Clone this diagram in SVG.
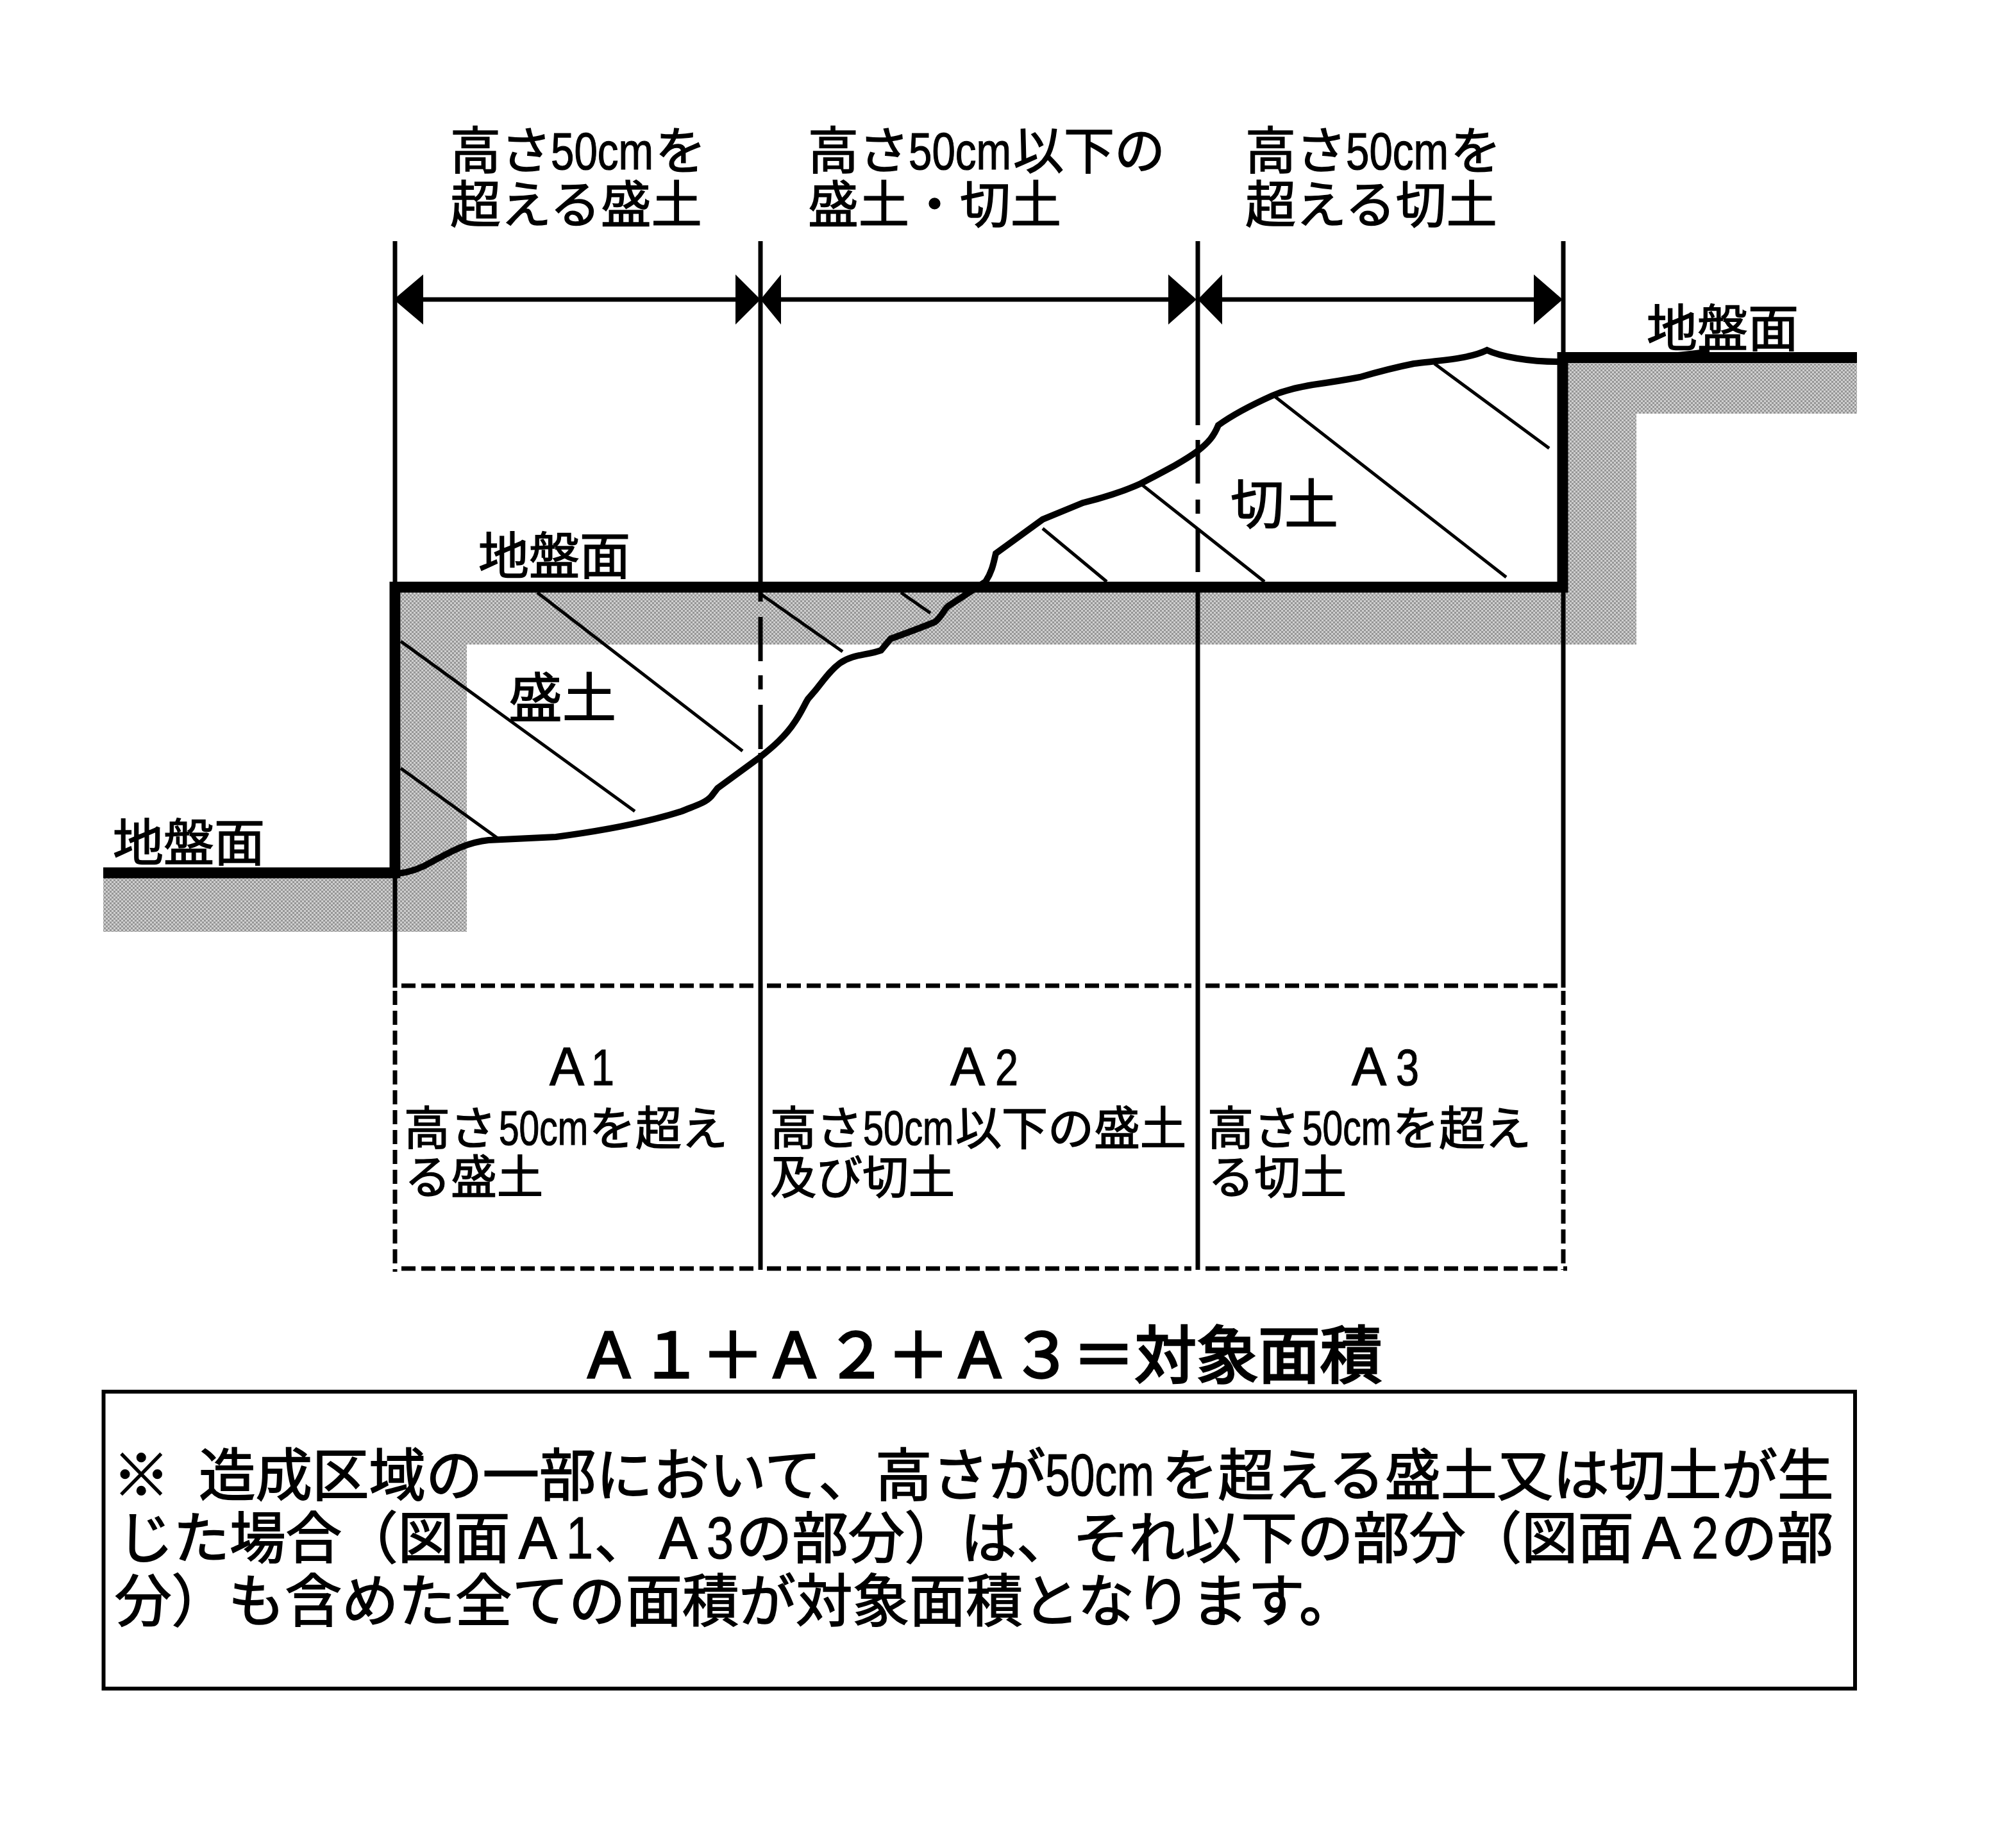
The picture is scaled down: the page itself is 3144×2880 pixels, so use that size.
<svg xmlns="http://www.w3.org/2000/svg" width="3144" height="2880" viewBox="0 0 3144 2880">
<style>
text{font-family:"Noto Sans CJK JP","Liberation Sans",sans-serif;fill:#000;stroke:#000;stroke-width:1.5}
.lat{font-family:"Liberation Sans",sans-serif;stroke-width:1.2}
.s70{font-size:72px}.s78{font-size:79px}.s84{font-size:84px}.s87{font-size:87.5px;stroke-width:1.8}.s88{font-size:88.5px;stroke-width:1.8}
.eq{font-size:96.4px;stroke-width:3.5}
.thin{stroke:#000;stroke-width:7;fill:none}
.hatch{stroke:#000;stroke-width:5;fill:none}
.dash{stroke:#000;stroke-width:7;fill:none;stroke-dasharray:22 9}
.thick{stroke:#000;stroke-width:17;fill:none;stroke-linejoin:miter}
.head{fill:#000}
</style>
<defs>
<pattern id="dither" width="6" height="6" patternUnits="userSpaceOnUse">
<rect width="6" height="6" fill="#cfcfcf"/>
<rect width="3" height="3" fill="#969696"/>
<rect x="3" y="3" width="3" height="3" fill="#969696"/>
</pattern>
</defs>
<rect width="3144" height="2880" fill="#fff"/>
<g id="ground-fill">
<path fill="url(#dither)" d="M161,1369H625V924H2445V566H2896V645H2552V1005H728V1453H161Z"/>
</g>
<g id="hatching">
<path class="hatch" d="M2237,567L2416,699M1989,619L2349,900M1776,752L1972,907M1626,824L1726,907M1405,924L1451,956M625,1000L990,1265M625,1198L776,1307M838,924L1158,1171M1186,926L1314,1016"/>
</g>
<g id="connectors">
<path class="thin" d="M616,376V907M616,1369V1540M1186,376V907M1186,924V938M1186,962V1031M1186,1053V1075M1186,1099V1168M1186,1174V1980M1868,376V663M1868,686V754M1868,779V801M1868,824V892M1868,924V1980M2438,376V549M2438,924V1540"/>
<path class="dash" d="M616,1545V1983M2438,1545V1980"/>
<path class="dash" d="M626,1537H1176M1196,1537H1858M1880,1537H2430M626,1978H1176M1196,1978H1858M1880,1978H2444"/>
<path class="thin" d="M660,467H1147M1218,467H1822M1906,467H2392"/>
<path class="head" d="M614,467L660,428V506ZM1186,467L1147,428V506ZM1186,467L1218,428V506ZM1866,467L1822,428V506ZM1868,467L1906,428V506ZM2437,467L2392,428V506Z"/>
</g>
<g id="ground-line">
<path class="thick" d="M161,1361H616V915.5H2437V557.5H2896"/>
</g>
<g id="terrain">
<path d="M621,1362C640,1360 660,1352 675,1343C700,1330 725,1314 762,1310L867,1305C935,1296 1010,1282 1063,1265C1085,1256 1100,1252 1109,1242L1119,1229L1186,1180C1205,1165 1225,1148 1240,1125C1250,1110 1255,1098 1260,1090L1272,1076C1285,1060 1295,1045 1310,1034C1330,1020 1352,1022 1374,1014L1389,996C1420,985 1445,975 1458,970C1470,960 1472,950 1479,945L1537,907C1548,890 1550,875 1553,863L1626,810L1689,784C1725,775 1755,765 1779,754C1815,735 1845,720 1868,703C1885,690 1893,680 1900,663C1925,645 1955,630 1984,617C2005,608 2025,604 2047,600C2075,596 2100,592 2121,588C2155,578 2180,572 2205,567C2245,562 2290,560 2319,546C2340,556 2385,564 2429,564" fill="none" stroke="#000" stroke-width="10"/>
<path d="M2605,550Q2640,547 2666,543V550Z" fill="#000"/>
</g>
<g id="label-top-1">
<text class="s78" x="702" y="264">高さ<tspan class="lat" font-size="82" x="859" textLength="160" lengthAdjust="spacingAndGlyphs">50cm</tspan><tspan x="1022">を</tspan></text>
<text class="s78" x="702" y="348">超える盛土</text>
</g>
<g id="label-top-2">
<text class="s78" x="1260" y="264">高さ<tspan class="lat" font-size="82" x="1417" textLength="160" lengthAdjust="spacingAndGlyphs">50cm</tspan><tspan x="1580">以下の</tspan></text>
<text class="s78" x="1260" y="348">盛土・切土</text>
</g>
<g id="label-top-3">
<text class="s78" x="1942" y="264">高さ<tspan class="lat" font-size="82" x="2099" textLength="160" lengthAdjust="spacingAndGlyphs">50cm</tspan><tspan x="2262">を</tspan></text>
<text class="s78" x="1942" y="348">超える切土</text>
</g>
<g id="ground-labels">
<text class="s78" x="746" y="896">地盤面</text>
<text class="s78" x="176" y="1343">地盤面</text>
<text class="s78" x="2568" y="541">地盤面</text>
<text class="s84" x="793" y="1119">盛土</text>
<text class="s84" x="1919" y="817">切土</text>
</g>
<g id="area-a1">
<text class="s78" x="845" y="1692">Ａ<tspan class="lat" font-size="80" x="922" textLength="36" lengthAdjust="spacingAndGlyphs">1</tspan></text>
<text class="s70" x="630" y="1785">高さ<tspan class="lat" font-size="76" x="778" textLength="139" lengthAdjust="spacingAndGlyphs">50cm</tspan><tspan x="919">を超え</tspan></text>
<text class="s70" x="631" y="1861">る盛土</text>
</g>
<g id="area-a2">
<text class="s78" x="1470" y="1692">Ａ<tspan class="lat" font-size="80" x="1552" textLength="36" lengthAdjust="spacingAndGlyphs">2</tspan></text>
<text class="s70" x="1201" y="1785">高さ<tspan class="lat" font-size="76" x="1346" textLength="141" lengthAdjust="spacingAndGlyphs">50cm</tspan><tspan x="1490">以下の盛土</tspan></text>
<text class="s70" x="1201" y="1861">及び切土</text>
</g>
<g id="area-a3">
<text class="s78" x="2096" y="1692">Ａ<tspan class="lat" font-size="80" x="2177" textLength="36" lengthAdjust="spacingAndGlyphs">3</tspan></text>
<text class="s70" x="1883" y="1785">高さ<tspan class="lat" font-size="76" x="2031" textLength="139" lengthAdjust="spacingAndGlyphs">50cm</tspan><tspan x="2172">を超え</tspan></text>
<text class="s70" x="1884" y="1861">る切土</text>
</g>
<g id="equation">
<text class="eq" x="902" y="2148">Ａ１＋Ａ２＋Ａ３＝対象面積</text>
</g>
<g id="note">
<rect x="161.5" y="2170" width="2731.5" height="463" fill="none" stroke="#000" stroke-width="6"/>
<text class="s88" x="176" y="2332">※<tspan x="310">造成区域の一部において、高さが</tspan><tspan class="lat" font-size="92" x="1630" textLength="170" lengthAdjust="spacingAndGlyphs">50cm</tspan><tspan class="s87" x="1812">を超える盛土又は切土が生</tspan></text>
<text class="s87" x="183" y="2430">じた場合（図面Ａ<tspan class="lat" font-size="92" x="883" textLength="42" lengthAdjust="spacingAndGlyphs">1</tspan><tspan x="927">、Ａ</tspan><tspan class="lat" font-size="92" x="1102" textLength="42" lengthAdjust="spacingAndGlyphs">3</tspan><tspan x="1148">の部分）は、それ以下の部分（図面Ａ</tspan><tspan class="lat" font-size="92" x="2638" textLength="42" lengthAdjust="spacingAndGlyphs">2</tspan><tspan x="2684">の部</tspan></text>
<text class="s88" x="179" y="2528">分）も含めた全ての面積が対象面積となります。</text>
</g>
</svg>
